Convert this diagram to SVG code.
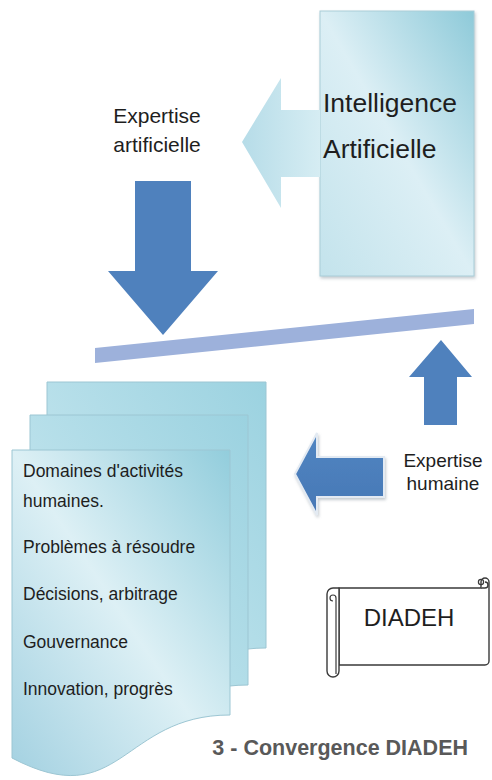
<svg xmlns="http://www.w3.org/2000/svg" width="492" height="780" viewBox="0 0 492 780">
  <defs>
    <linearGradient id="gIA" x1="1" y1="0" x2="0" y2="1">
      <stop offset="0" stop-color="#8ECAD9"/>
      <stop offset="0.5" stop-color="#DCEFF5"/>
      <stop offset="1" stop-color="#C3E3EC"/>
    </linearGradient>
    <linearGradient id="gLight" x1="0" y1="0" x2="1" y2="0">
      <stop offset="0" stop-color="#B6DCE8"/>
      <stop offset="1" stop-color="#D6EDF3"/>
    </linearGradient>
    <linearGradient id="gSheet" x1="1" y1="0" x2="0" y2="1">
      <stop offset="0" stop-color="#92CDDC"/>
      <stop offset="0.5" stop-color="#DDF0F5"/>
      <stop offset="1" stop-color="#A3D1E1"/>
    </linearGradient>
    <linearGradient id="gSheetBack" x1="1" y1="0" x2="0" y2="1">
      <stop offset="0" stop-color="#9BD2E0"/>
      <stop offset="1" stop-color="#D2ECF3"/>
    </linearGradient>
    <linearGradient id="gBlue" x1="0" y1="0" x2="0" y2="1">
      <stop offset="0" stop-color="#5286C2"/>
      <stop offset="1" stop-color="#4677B5"/>
    </linearGradient>
    <filter id="shadow" x="-10%" y="-10%" width="130%" height="130%">
      <feDropShadow dx="1" dy="2" stdDeviation="1.5" flood-color="#7F8C95" flood-opacity="0.45"/>
    </filter>
    <style>
      .lbl { font-family: "Liberation Sans", Arial, sans-serif; fill: #1E1E1E; }
      .sheet { stroke: #9CC6D3; stroke-width: 1; }
      .dark { fill: #4F81BD; }
      .scroll { fill: #FFFFFF; stroke: #3A3A3A; stroke-width: 1.4; stroke-linejoin: round; }
    </style>
  </defs>

  <!-- Artificial intelligence block -->
  <g id="ia">
    <rect x="320" y="11" width="154" height="265" fill="url(#gIA)" stroke="#A9CDD8" stroke-width="1" filter="url(#shadow)"/>
    <text class="lbl" x="323" y="112" font-size="26.5">Intelligence</text>
    <text class="lbl" x="323" y="158" font-size="26.5">Artificielle</text>
  </g>

  <!-- Labels -->
  <g id="label-artificielle">
    <text class="lbl" x="157" y="123" font-size="21" text-anchor="middle" fill="#262626">Expertise</text>
    <text class="lbl" x="157" y="152" font-size="21" text-anchor="middle" fill="#262626">artificielle</text>
  </g>
  <g id="label-humaine">
    <text class="lbl" x="443" y="467" font-size="19" text-anchor="middle" fill="#262626">Expertise</text>
    <text class="lbl" x="443" y="490" font-size="19" text-anchor="middle" fill="#262626">humaine</text>
  </g>

  <!-- Stack of documents -->
  <g id="documents">
    <path class="sheet" fill="url(#gSheetBack)" d="M47,382 L266,382 L266,648 C157,648 157,748 47,686 Z"/>
    <path class="sheet" fill="url(#gSheetBack)" d="M30,415 L248,415 L248,685 C139,685 139,785 30,723 Z"/>
    <path class="sheet" fill="url(#gSheet)" d="M12,450 L230,450 L230,715 C121,715 121,815 12,758 Z"/>
    <g class="lbl" font-size="17.5">
      <text x="23" y="477">Domaines d'activités</text>
      <text x="23" y="507">humaines.</text>
      <text x="23" y="553">Problèmes à résoudre</text>
      <text x="23" y="600">Décisions, arbitrage</text>
      <text x="23" y="648">Gouvernance</text>
      <text x="23" y="695">Innovation, progrès</text>
    </g>
  </g>

  <!-- DIADEH scroll -->
  <g id="diadeh">
    <path class="scroll" d="M339,588 L481,588 L481,582 A4,4 0 0 1 489,582 L489,661 A4,4 0 0 1 485,665 L339,665 Z"/>
    <path class="scroll" fill="none" d="M481,588 L485,588 A3,3 0 0 0 485,582"/>
    <circle cx="481" cy="582" r="2.6" fill="none" stroke="#3A3A3A" stroke-width="1.2"/>
    <path class="scroll" d="M327,594 A6,6 0 0 1 333,588 L339,588 L339,671 A6,6 0 0 1 327,671 Z"/>
    <path fill="none" stroke="#3A3A3A" stroke-width="1.2" d="M333,601 A3,3 0 1 1 336,598 L336,674"/>
    <text class="lbl" x="409" y="626" font-size="24" text-anchor="middle">DIADEH</text>
  </g>

  <!-- Caption -->
  <g id="caption">
    <text x="468" y="755" font-family="Liberation Sans, Arial, sans-serif" font-weight="bold" font-size="21.5" fill="#595959" text-anchor="end">3 - Convergence DIADEH</text>
  </g>

  <!-- Connectors: block arrows and convergence bar -->
  <g id="connectors">
    <!-- arrow from the AI block -->
    <path d="M320,110 L281,110 L281,78 L242,142 L281,208 L281,177 L320,177 Z" fill="url(#gLight)"/>
    <!-- artificial expertise, downward -->
    <path class="dark" d="M135,181 L191,181 L191,271 L218,271 L163,335 L108,271 L135,271 Z"/>
    <!-- convergence bar -->
    <polygon points="95,348 474,309 474,324 95,363" fill="#9DB1DB"/>
    <!-- human expertise, upward -->
    <path class="dark" d="M424,425 L457,425 L457,377 L472,377 L441,340 L409,377 L424,377 Z"/>
    <!-- human expertise, toward the documents -->
    <path d="M384,457 L317,457 L317,433 L295,474 L317,515 L317,497 L384,497 Z" fill="url(#gBlue)" stroke="#E3EAF2" stroke-width="2" filter="url(#shadow)"/>
  </g>
</svg>
